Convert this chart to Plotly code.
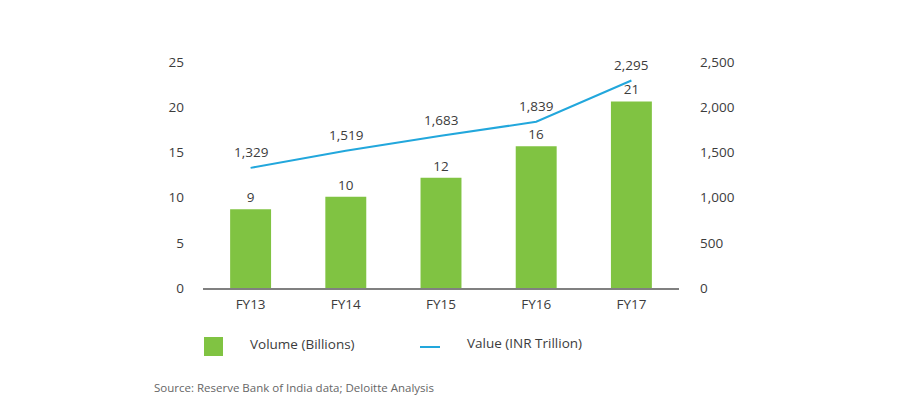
import plotly.graph_objects as go

categories = ["FY13", "FY14", "FY15", "FY16", "FY17"]
volume = [8.72, 10.1, 12.2, 15.67, 20.64]
value = [1329, 1519, 1683, 1839, 2295]
left_ticks = [0, 5, 10, 15, 20, 25]
right_ticks = [0, 500, 1000, 1500, 2000, 2500]

GREEN = "#80c342"
BLUE = "#22a7dc"
TEXT = "#3c3c3c"
FONT = "Open Sans"

OFF = 8  # page body margin
W, H = 900, 400
L, T = 203 - OFF, 62 - OFF
PW, PH = 476, 226
R, B = W - L - PW, H - T - PH


def px(x):
    return (x - OFF - L) / PW


def py(y):
    return (T + PH - (y - OFF)) / PH


fig = go.Figure()
fig.add_trace(go.Bar(
    x=categories, y=volume, marker=dict(color=GREEN, line=dict(width=0)),
    width=0.43, texttemplate="%{y:.0f}", textposition="outside",
    textfont=dict(family=FONT, size=13.5, color=TEXT), cliponaxis=False,
    name="Volume (Billions)", showlegend=False,
))
fig.add_trace(go.Scatter(
    x=categories, y=value, yaxis="y2", mode="lines",
    line=dict(color=BLUE, width=2), name="Value (INR Trillion)", showlegend=False,
))
for c, v in zip(categories, value):
    fig.add_annotation(x=c, y=v, yref="y2", text=f"{v:,}", showarrow=False,
                       yshift=16, font=dict(family=FONT, size=13.5, color=TEXT))

# legend
fig.add_shape(type="rect", xref="paper", yref="paper",
              x0=px(204), x1=px(223), y0=py(337), y1=py(356),
              fillcolor=GREEN, line=dict(width=0))
fig.add_shape(type="line", xref="paper", yref="paper",
              x0=px(420), x1=px(440), y0=py(347), y1=py(347),
              line=dict(color=BLUE, width=2))
fig.add_annotation(xref="paper", yref="paper", x=px(248), y=py(344),
                   xanchor="left", yanchor="middle", showarrow=False,
                   text="Volume (Billions)", font=dict(family=FONT, size=13.5, color=TEXT))
fig.add_annotation(xref="paper", yref="paper", x=px(465), y=py(343),
                   xanchor="left", yanchor="middle", showarrow=False,
                   text="Value (INR Trillion)", font=dict(family=FONT, size=13.5, color=TEXT))
fig.add_annotation(xref="paper", yref="paper", x=px(152), y=py(387),
                   xanchor="left", yanchor="middle", showarrow=False,
                   text="Source: Reserve Bank of India data; Deloitte Analysis",
                   font=dict(family=FONT, size=11.5, color="#666666"))

fig.update_layout(
    width=W, height=H, margin=dict(l=L, r=R, t=T, b=B, autoexpand=False),
    paper_bgcolor="white", plot_bgcolor="white",
    font=dict(family=FONT, size=13.5, color=TEXT),
    xaxis=dict(showline=True, linecolor="#808080", linewidth=2, showgrid=False,
               ticks="", ticklabelstandoff=3, tickfont=dict(size=13.5, color=TEXT)),
    yaxis=dict(range=[0, 25], tickvals=left_ticks, showgrid=False, zeroline=False,
               showline=False, ticks="", ticklabelstandoff=18,
               tickfont=dict(size=13.5, color=TEXT)),
    yaxis2=dict(range=[0, 2500], tickvals=right_ticks, overlaying="y", side="right",
                showgrid=False, zeroline=False, showline=False, ticks="",
                ticklabelstandoff=20, tickformat=",", tickfont=dict(size=13.5, color=TEXT)),
    showlegend=False, bargap=0.57,
)

fig.write_html("out.html")
